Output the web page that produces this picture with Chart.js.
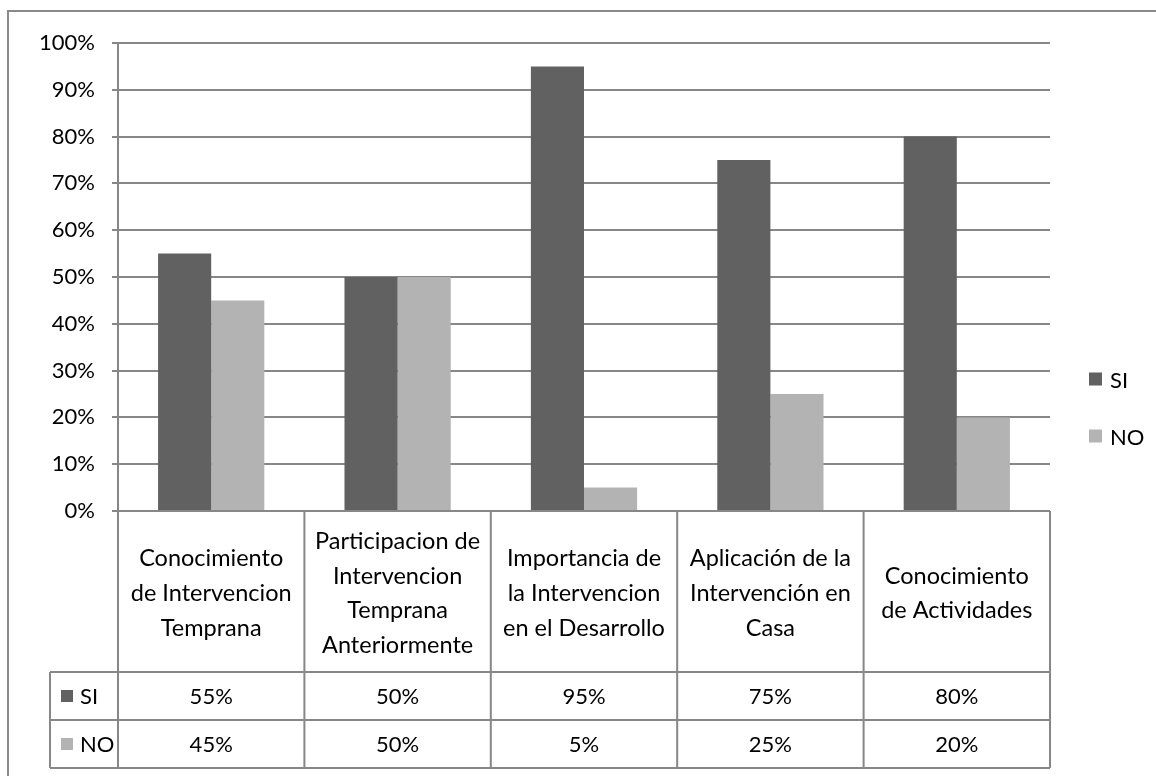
<!DOCTYPE html>
<html>
<head>
<meta charset="utf-8">
<script src="https://cdn.jsdelivr.net/npm/chart.js@4.4.1/dist/chart.umd.min.js"></script>
<style>
  html, body { margin: 0; padding: 0; background: #fff; overflow: hidden; }
  #wrap { position: relative; width: 1156px; height: 776px; }
  #frame {
    position: absolute; left: 7px; top: 10px; width: 1160px; height: 800px;
    border: 2px solid #8a8a8a; box-sizing: border-box;
  }
  #chart { position: absolute; left: 0; top: 0; }
</style>
</head>
<body>
<div id="wrap">
  <div id="frame"></div>
  <canvas id="chart" width="1156" height="776"></canvas>
</div>
<script>
// categories (one entry per line of the header cell)
const categories = [
    ['Conocimiento', 'de Intervencion', 'Temprana'],
    ['Participacion de', 'Intervencion', 'Temprana', 'Anteriormente'],
    ['Importancia de', 'la Intervencion', 'en el Desarrollo'],
    ['Aplicación de la', 'Intervención en', 'Casa'],
    ['Conocimiento', 'de Actividades'],
];
const seriesNames = ['SI', 'NO'];
const siValues = [55, 50, 95, 75, 80];
const noValues = [45, 50, 5, 25, 20];
const seriesColors = ['#616161', '#b3b3b3'];

const FONT = 'Lato, "Open Sans", sans-serif';
const FONT_SIZE = 22;
const HEADER_SIZE = 23.5;
const LINE_COLOR = '#878787';

// data table under the plot: header row + one row per series
const dataTable = {
    id: 'dataTable',
    afterDraw(chart) {
        const ctx = chart.ctx;
        const area = chart.chartArea;
        const x = chart.scales.x;
        const top = area.bottom;
        const headerBottom = top + 161;
        const rowH = 48;
        const bottom = headerBottom + rowH * chart.data.datasets.length;
        const keyLeft = 50;

        const half = (x.getPixelForValue(1) - x.getPixelForValue(0)) / 2;
        const edges = [area.left];
        for (let i = 0; i < chart.data.labels.length; i++) {
            edges.push(x.getPixelForValue(i) + half);
        }

        ctx.save();
        ctx.strokeStyle = LINE_COLOR;
        ctx.lineWidth = 2;
        ctx.beginPath();
        edges.forEach(px => {
            ctx.moveTo(px, top);
            ctx.lineTo(px, bottom);
        });
        ctx.moveTo(keyLeft, headerBottom);
        ctx.lineTo(keyLeft, bottom);
        for (let r = 0; r <= chart.data.datasets.length; r++) {
            const y = headerBottom + r * rowH;
            ctx.moveTo(keyLeft, y);
            ctx.lineTo(area.right, y);
        }
        ctx.stroke();

        ctx.fillStyle = '#000';
        ctx.font = `${HEADER_SIZE}px ${FONT}`;
        ctx.textAlign = 'center';
        ctx.textBaseline = 'middle';
        const lineH = 34.7;
        chart.data.labels.forEach((lines, i) => {
            const cx = x.getPixelForValue(i);
            const midY = (top + headerBottom) / 2 + 2;
            const y0 = midY - (lines.length - 1) * lineH / 2;
            lines.forEach((t, k) => ctx.fillText(t, cx, y0 + k * lineH));
        });

        ctx.font = `${FONT_SIZE}px ${FONT}`;
        chart.data.datasets.forEach((ds, r) => {
            const cy = headerBottom + r * rowH + rowH / 2;
            ctx.fillStyle = ds.backgroundColor;
            ctx.fillRect(61, cy - 6, 12, 12);
            ctx.fillStyle = '#000';
            ctx.textAlign = 'left';
            ctx.fillText(ds.label, 80, cy + 1);
            ctx.textAlign = 'center';
            ds.data.forEach((v, i) => {
                ctx.fillText(v + '%', x.getPixelForValue(i), cy + 1);
            });
        });
        ctx.restore();
    },
};

// legend to the right of the plot
const sideLegend = {
    id: 'sideLegend',
    afterDraw(chart) {
        const ctx = chart.ctx;
        const area = chart.chartArea;
        const gap = 57;
        const sets = chart.data.datasets;
        const y0 = 408 - (sets.length - 1) * gap / 2;
        ctx.save();
        ctx.font = `${FONT_SIZE}px ${FONT}`;
        ctx.textBaseline = 'middle';
        ctx.textAlign = 'left';
        sets.forEach((ds, i) => {
            const cy = y0 + i * gap;
            ctx.fillStyle = ds.backgroundColor;
            ctx.fillRect(area.right + 39, cy - 7, 13, 13);
            ctx.fillStyle = '#000';
            ctx.fillText(ds.label, area.right + 60, cy + 1);
        });
        ctx.restore();
    },
};

new Chart(document.getElementById('chart'), {
    type: 'bar',
    data: {
        labels: categories,
        datasets: [
            { label: seriesNames[0], data: siValues, backgroundColor: seriesColors[0] },
            { label: seriesNames[1], data: noValues, backgroundColor: seriesColors[1] },
        ],
    },
    options: {
        responsive: false,
        animation: false,
        events: [],
        categoryPercentage: 0.57,
        barPercentage: 1.0,
        layout: { padding: { left: 8, right: 106, top: 43, bottom: 265 } },
        plugins: {
            legend: { display: false },
            tooltip: { enabled: false },
        },
        scales: {
            x: { display: false },
            y: {
                min: 0,
                max: 100,
                afterFit(scale) { scale.width = 110; },
                ticks: {
                    stepSize: 10,
                    padding: 17,
                    color: '#000',
                    font: { family: FONT, size: FONT_SIZE },
                    callback: v => v + '%',
                },
                grid: { color: LINE_COLOR, lineWidth: 2, tickLength: 6 },
                border: { color: LINE_COLOR, width: 2 },
            },
        },
    },
    plugins: [dataTable, sideLegend],
});
</script>
</body>
</html>
